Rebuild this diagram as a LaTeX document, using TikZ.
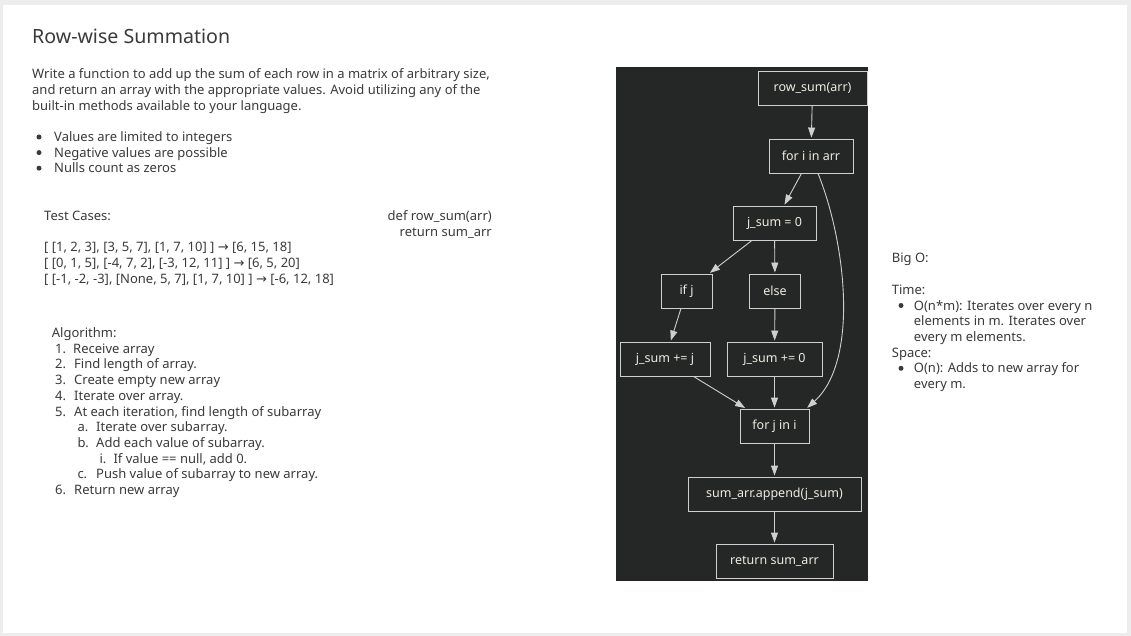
\documentclass[tikz,border=0pt]{standalone}
\usepackage{fontspec}
\setmainfont{Noto Sans}
\newfontfamily\arrowfont{DejaVu Sans}
\usetikzlibrary{arrows.meta}
\definecolor{pagegray}{HTML}{EDEDED}
\definecolor{inkgray}{HTML}{3A3A3A}
\definecolor{panelbg}{HTML}{252727}
\definecolor{boxline}{HTML}{CFCFCF}
\definecolor{boxtext}{HTML}{EEEAE0}
\newcommand{\maps}{{\arrowfont\fontsize{13}{15}\selectfont →}}

\begin{document}
\begin{tikzpicture}[x=1pt, y=-1pt, shorten >=1pt,
        text_style/.style={anchor=base west, inner sep=0pt, text=inkgray, font=\fontsize{13}{15}\selectfont},
        right_text_style/.style={text_style, anchor=base east},
        dot_style/.style={circle, fill=inkgray, inner sep=0pt, minimum size=5pt},
        box_style/.style={draw=boxline, line width=0.9pt, fill=panelbg, text=boxtext, minimum height=34pt, inner sep=0pt, font=\fontsize{12.5}{15}\selectfont},
        edge_style/.style={draw=boxline, line width=0.9pt, -{Triangle[length=10pt, width=7pt, fill=boxline]}}]

        % page and card
        \fill [pagegray] (0,0) rectangle (1131,636);
        \fill [white] (3,5) rectangle (1127,633);
        \useasboundingbox (0,0) rectangle (1131,636);

        % left column
        \node [text_style, font=\fontsize{19.6}{24}\selectfont] (title) at (32,44) {Row-wise Summation};

        \foreach \txt [count=\k] in {{Write a function to add up the sum of each row in a matrix of arbitrary size,},
                {and return an array with the appropriate values. Avoid utilizing any of the},
                {built-in methods available to your language.}}
            \node [text_style] (intro\k) at (32,79+15.6*\k-15.6) {\txt};

        \foreach \txt [count=\k] in {Values are limited to integers, Negative values are possible, Nulls count as zeros}
        {
            \node [dot_style] (dot\k) at (39,137+15.6*\k-15.6) {};
            \node [text_style] (rule\k) at (54,141.5+15.6*\k-15.6) {\txt};
        }

        \node [text_style] (tests) at (44,220.7) {Test Cases:};
        \node [text_style] (test1) at (44,251.7) {[ [1, 2, 3], [3, 5, 7], [1, 7, 10] ] \maps{} [6, 15, 18]};
        \node [text_style] (test2) at (44,267.4) {[ [0, 1, 5], [-4, 7, 2], [-3, 12, 11] ] \maps{} [6, 5, 20]};
        \node [text_style] (test3) at (44,283.1) {[ [-1, -2, -3], [None, 5, 7], [1, 7, 10] ] \maps{} [-6, 12, 18]};

        \node [right_text_style] (sig) at (492,220.7) {def row\_sum(arr)};
        \node [right_text_style] (ret) at (492,236.3) {return sum\_arr};

        \node [text_style] (algo) at (51.7,337.3) {Algorithm:};
        \foreach \num/\nx/\txt/\tx [count=\k] in {1./55/Receive array/73,
                2./55/Find length of array./74,
                3./55/Create empty new array/74,
                4./55/Iterate over array./74,
                5./55/{At each iteration, find length of subarray}/74,
                a./77.3/Iterate over subarray./96,
                b./77.3/Add each value of subarray./96,
                i./99.3/{If value == null, add 0.}/113.3,
                c./77.3/Push value of subarray to new array./96,
                6./55/Return new array/74}
        {
            \node [text_style] (algnum\k) at (\nx,353.3+15.68*\k-15.68) {\num};
            \node [text_style] (alg\k) at (\tx,353.3+15.68*\k-15.68) {\txt};
        }

        % right column
        \node [text_style] (bigo) at (891.7,262.3) {Big O:};
        \node [text_style] (time) at (891.7,294) {Time:};
        \node [dot_style] (tdot) at (901,305.5) {};
        \node [text_style] (time1) at (913.7,310) {O(n*m): Iterates over every n};
        \node [text_style] (time2) at (913.7,325.7) {elements in m. Iterates over};
        \node [text_style] (time3) at (913.7,341.4) {every m elements.};
        \node [text_style] (space) at (891.7,357) {Space:};
        \node [dot_style] (sdot) at (901,368.3) {};
        \node [text_style] (space1) at (913.7,372.8) {O(n): Adds to new array for};
        \node [text_style] (space2) at (913.7,388.5) {every m.};

        % flow chart panel
        \fill [panelbg] (616,67) rectangle (868,581);

        \node [box_style, minimum width=109pt] (rowsum) at (812.5,88.5) {row\_sum(arr)};
        \node [box_style, minimum width=84pt] (fori) at (811,156) {for i in arr};
        \node [box_style, minimum width=83pt] (jsumzero) at (774.5,223) {j\_sum = 0};
        \node [box_style, minimum width=51pt] (ifj) at (686.5,291) {if j};
        \node [box_style, minimum width=51pt] (elsebox) at (775,291) {else};
        \node [box_style, minimum width=90pt] (addj) at (665,359) {j\_sum += j};
        \node [box_style, minimum width=95pt] (addzero) at (774.5,359) {j\_sum += 0};
        \node [box_style, minimum width=69pt] (forj) at (774.5,426) {for j in i};
        \node [box_style, minimum width=173pt] (append) at (774.5,494) {sum\_arr.append(j\_sum)};
        \node [box_style, minimum width=117pt] (ret2) at (774.5,561) {return sum\_arr};

        \draw [edge_style] (rowsum) edge (fori);
        \draw [edge_style] (fori) edge (jsumzero);
        \draw [edge_style] ([xshift=7pt]fori.south) .. controls (845,240) and (860,360) .. ([xshift=-3pt]forj.north east);
        \draw [edge_style] (jsumzero) edge (ifj);
        \draw [edge_style] (jsumzero) edge (elsebox);
        \draw [edge_style] (ifj) edge (addj);
        \draw [edge_style] (elsebox) edge (addzero);
        \draw [edge_style] (addj) edge (forj);
        \draw [edge_style] (addzero) edge (forj);
        \draw [edge_style] (forj) edge (append);
        \draw [edge_style] (append) edge (ret2);

        \end{tikzpicture}
\end{document}
